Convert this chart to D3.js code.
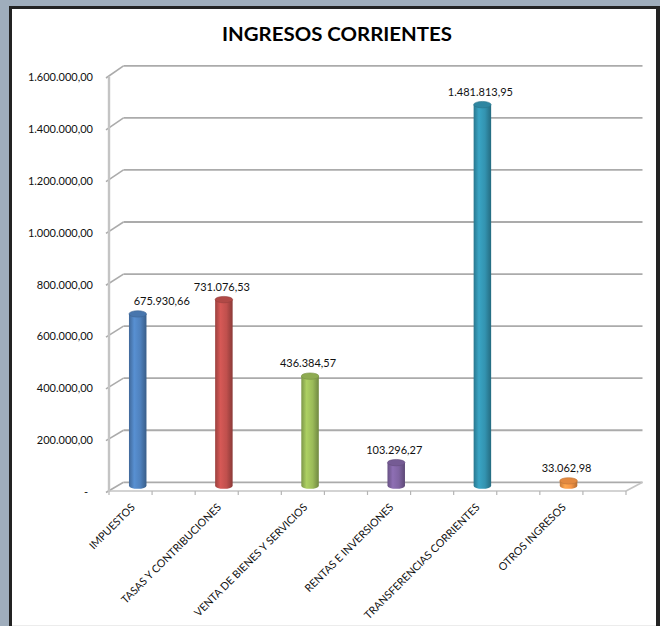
<!DOCTYPE html>
<html>
<head>
<meta charset="utf-8">
<script src="https://cdn.jsdelivr.net/npm/d3@7/dist/d3.min.js"></script>
<style>
  html, body { margin: 0; padding: 0; background: #fff; }
  svg { display: block; }
</style>
</head>
<body>
<svg id="chart" width="660" height="626"></svg>
<script>
// ---- data ----
const title = "INGRESOS CORRIENTES";
const categories = [
  "IMPUESTOS",
  "TASAS Y CONTRIBUCIONES",
  "VENTA DE BIENES Y SERVICIOS",
  "RENTAS E INVERSIONES",
  "TRANSFERENCIAS CORRIENTES",
  "OTROS INGRESOS"
];
const values = [675930.66, 731076.53, 436384.57, 103296.27, 1481813.95, 33062.98];
const yTickValues = [0, 200000, 400000, 600000, 800000, 1000000, 1200000, 1400000, 1600000];
const palette = ["#4f81bd", "#c0504d", "#9bbb59", "#8064a2", "#3393b0", "#f79646"];

// ---- setup ----
const svg = d3.select("#chart");
const W = 660, H = 626;
const font = "Lato, 'Open Sans', 'DejaVu Sans', sans-serif";

// frame
svg.append("rect").attr("x", 0).attr("y", 0).attr("width", W).attr("height", H).attr("fill", "#9fadbc");
svg.append("rect").attr("x", 9).attr("y", 6).attr("width", W - 9).attr("height", H - 6).attr("fill", "#232323");
svg.append("rect").attr("x", 12).attr("y", 9).attr("width", 644).attr("height", H - 9).attr("fill", "#ffffff");
svg.append("line").attr("x1", 12).attr("x2", 656).attr("y1", 625.5).attr("y2", 625.5).attr("stroke", "#ececec");

// geometry
const frontLeft = 109, frontRight = 626, backLeft = 123.5, backRight = 642.5;
const yFront = d3.scaleLinear().domain([0, 1600000]).range([491, 76.5]);
const yBack = d3.scaleLinear().domain([0, 1600000]).range([482.3, 65.8]);
const x = d3.scaleBand().domain(categories).range([frontLeft, frontRight]).paddingInner(0).paddingOuter(0);
const bw = x.bandwidth();

const locale = d3.formatLocale({decimal: ",", thousands: ".", grouping: [3], currency: ["", ""]});
const fmt = locale.format(",.2f");

// title
svg.append("text")
  .attr("x", 337).attr("y", 41)
  .attr("text-anchor", "middle")
  .attr("font-family", font).attr("font-weight", "bold").attr("font-size", 19)
  .attr("textLength", 230).attr("lengthAdjust", "spacingAndGlyphs")
  .attr("fill", "#000")
  .text(title);

const gridColor = "#ababab";

// back wall gridlines
const grid = svg.append("g");
grid.selectAll("line.g").data(yTickValues).join("line")
  .attr("x1", backLeft).attr("x2", backRight)
  .attr("y1", d => yBack(d)).attr("y2", d => yBack(d))
  .attr("stroke", gridColor).attr("stroke-width", 1.8);
// side diagonals
grid.selectAll("line.d").data(yTickValues).join("line")
  .attr("x1", frontLeft - 3).attr("x2", backLeft)
  .attr("y1", d => yFront(d) + 1.5).attr("y2", d => yBack(d))
  .attr("stroke", gridColor).attr("stroke-width", 1.6);

// floor front edge + right diagonal
svg.append("line").attr("x1", frontLeft).attr("x2", frontRight)
  .attr("y1", yFront(0)).attr("y2", yFront(0)).attr("stroke", "#c4c4c4").attr("stroke-width", 1.6);
svg.append("line").attr("x1", frontRight).attr("x2", backRight)
  .attr("y1", yFront(0)).attr("y2", yBack(0)).attr("stroke", "#c4c4c4").attr("stroke-width", 1.6);
// ticks on category axis (every half band)
const tickXs = d3.range(0, categories.length * 2 + 1).map(i => frontLeft + i * bw / 2);
svg.selectAll("line.ct").data(tickXs).join("line")
  .attr("x1", d => d).attr("x2", d => d)
  .attr("y1", yFront(0)).attr("y2", yFront(0) + 4)
  .attr("stroke", "#b5b5b5").attr("stroke-width", 1.2);

// value axis line
svg.append("line").attr("x1", frontLeft).attr("x2", frontLeft)
  .attr("y1", yFront(1600000)).attr("y2", yFront(0) + 1)
  .attr("stroke", "#c4c4c4").attr("stroke-width", 2.4);

// y labels
svg.append("g").selectAll("text").data(yTickValues).join("text")
  .attr("x", d => d === 0 ? 88 : 93)
  .attr("y", d => yFront(d) + 1)
  .attr("dy", "0.35em")
  .attr("text-anchor", "end")
  .attr("font-family", font).attr("font-size", 11)
  .attr("fill", "#111")
  .text(d => d === 0 ? "-" : fmt(d));

// bars (cylinders)
const defs = svg.append("defs");
palette.forEach((c, i) => {
  const base = d3.color(c);
  const g = defs.append("linearGradient").attr("id", "grad" + i)
    .attr("x1", "0%").attr("x2", "100%").attr("y1", "0%").attr("y2", "0%");
  g.append("stop").attr("offset", "0%").attr("stop-color", base.darker(0.6));
  g.append("stop").attr("offset", "30%").attr("stop-color", base.brighter(0.3));
  g.append("stop").attr("offset", "65%").attr("stop-color", base);
  g.append("stop").attr("offset", "100%").attr("stop-color", base.darker(0.9));
});

const barW = 17.5, rx = barW / 2, ry = 3.2;
const midY = v => (yFront(v) + yBack(v)) / 2;
const cx = d => x(d) + bw / 3;

const bars = svg.append("g").selectAll("g").data(categories).join("g");
bars.append("path")
  .attr("d", (d, i) => {
    const c = cx(d), top = midY(values[i]) + 2.8, bot = midY(0) - 1;
    return `M${c - rx},${top} L${c - rx},${bot} A${rx},${ry} 0 0 0 ${c + rx},${bot} L${c + rx},${top} Z`;
  })
  .attr("fill", (d, i) => `url(#grad${i})`);
bars.append("ellipse")
  .attr("cx", d => cx(d))
  .attr("cy", (d, i) => midY(values[i]) + 2.8)
  .attr("rx", rx).attr("ry", ry)
  .attr("fill", (d, i) => d3.color(palette[i]).darker(0.25))
  .attr("stroke", (d, i) => d3.color(palette[i]).darker(0.7)).attr("stroke-width", 0.6);

// data labels
bars.append("text")
  .attr("x", (d, i) => cx(d) + (i === 0 ? 24 : -2))
  .attr("y", (d, i) => midY(values[i]) - 6)
  .attr("text-anchor", "middle")
  .attr("font-family", font).attr("font-size", 11)
  .attr("fill", "#111")
  .text((d, i) => fmt(values[i]));

// category labels
svg.append("g").selectAll("text").data(categories).join("text")
  .attr("transform", d => `translate(${cx(d) - 2},${508}) rotate(-45)`)
  .attr("text-anchor", "end")
  .attr("font-family", font).attr("font-size", 10.7)
  .attr("fill", "#111")
  .text(d => d);
</script>
</body>
</html>
